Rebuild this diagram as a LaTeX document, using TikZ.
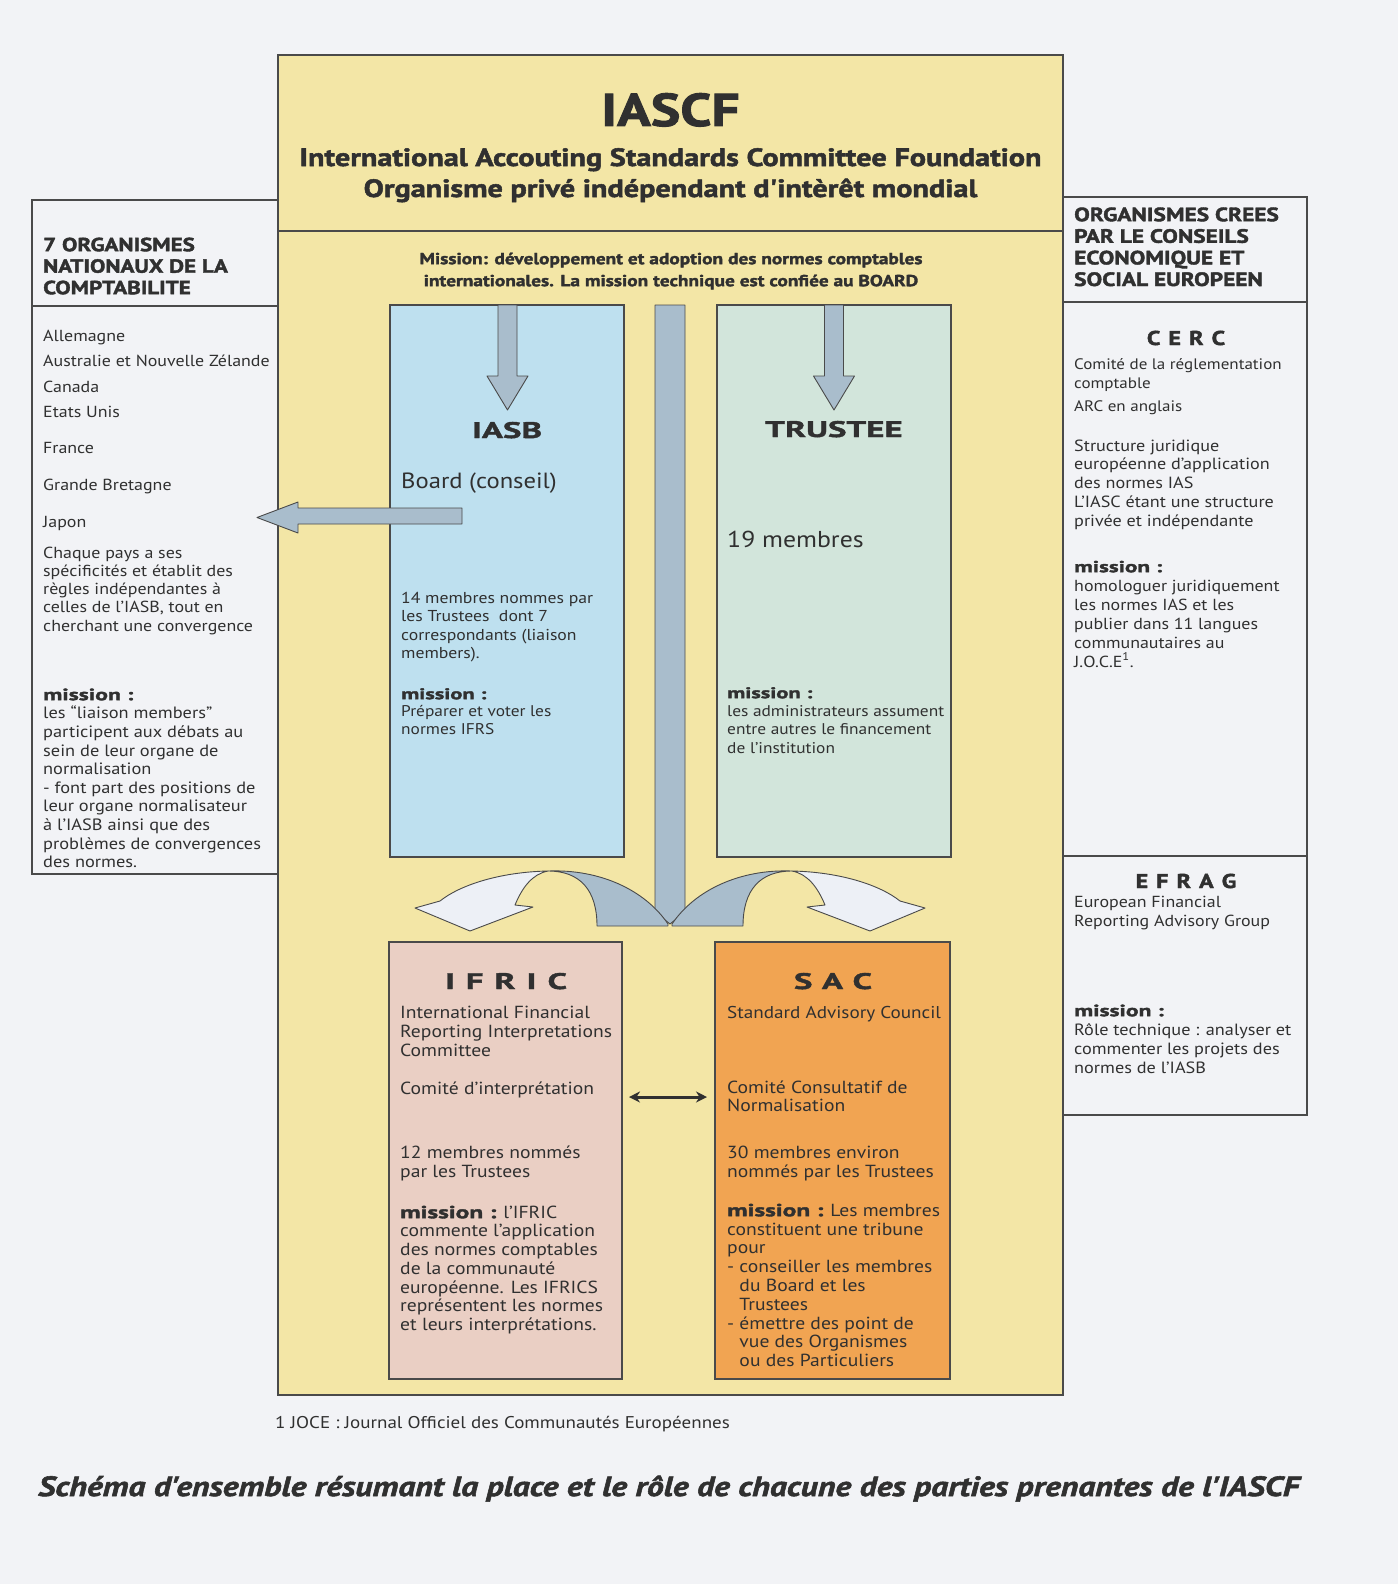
\documentclass[tikz,border=0pt]{standalone}
\usepackage{fontspec}
\setmainfont{PT Sans}[FakeStretch=1.12]
\newfontfamily\heavyfont{PT Sans}[FakeStretch=1.45,BoldFeatures={FakeBold=2}]
\newfontfamily\titlefont{PT Sans}[FakeStretch=1.21,BoldFeatures={FakeBold=2},BoldItalicFeatures={FakeBold=2}]
\newfontfamily\widefont{PT Sans}[FakeStretch=1.55,BoldFeatures={FakeBold=1.8}]
\usepackage{xcolor}
\usepackage{tikz}
\usetikzlibrary{arrows.meta, positioning}

\definecolor{paper}{HTML}{F2F3F6}
\definecolor{iascfyellow}{HTML}{F3E6A6}
\definecolor{iasbblue}{HTML}{BEE0EF}
\definecolor{trusteegreen}{HTML}{D2E5DB}
\definecolor{ifricpink}{HTML}{EACFC4}
\definecolor{sacorange}{HTML}{F1A452}
\definecolor{arrowgray}{HTML}{A9BDCC}
\definecolor{arrowwhite}{HTML}{EDF0F6}
\definecolor{inkgray}{HTML}{303030}
\definecolor{linegray}{HTML}{4A4A4A}

\newcommand\hvy{\heavyfont\bfseries}
\newcommand\headfont{\widefont\bfseries\fontsize{22.5}{26}\selectfont\spaceskip 11pt\relax}
\newcommand\euheadfont{\titlefont\bfseries\fontsize{20}{24}\selectfont\spaceskip 8pt\relax}
\newcommand\lstrut{\rule{0pt}{17pt}}

\begin{document}
\begin{tikzpicture}[x=1pt, y=-1pt,
    box/.style={draw=linegray, line width=1.3pt, inner sep=0pt, outer sep=0pt},
    txt/.style={anchor=north west, inner sep=0pt, align=left, text=inkgray},
    line/.style={anchor=base west, inner sep=0pt, text=inkgray, font=\fontsize{16}{18}\selectfont},
    head/.style={anchor=base, inner sep=0pt, text=inkgray, font=\headfont},
    blockarrow/.style={fill=arrowgray, draw=linegray, line width=0.9pt, line join=round}]
  \useasboundingbox (0,0) rectangle (1398,1584);
  \fill[paper] (0,0) rectangle (1398,1584);

  % Foundation frame
  \node[box, fill=iascfyellow, minimum width=785, minimum height=1340] (iascf) at (670.5,725) {};
  \draw[box] (278,231) -- (1063,231);
  \node[anchor=base, inner sep=0pt, text=inkgray, font=\titlefont\bfseries\fontsize{46}{50}\selectfont] (t-iascf) at (670.5,126) {IASCF};
  \node[anchor=base, inner sep=0pt, text=inkgray, font=\titlefont\bfseries\fontsize{25}{30}\selectfont] (t-name) at (670.5,166) {International Accouting Standards Committee Foundation};
  \node[anchor=base, inner sep=0pt, text=inkgray, font=\titlefont\bfseries\fontsize{25}{30}\selectfont] (t-sub) at (670.5,197) {Organisme privé indépendant d'intèrêt mondial};
  \node[anchor=north, inner sep=0pt, align=center, text=inkgray, font=\titlefont\bfseries\fontsize{16}{22}\selectfont] (t-mission) at (671,247) {\lstrut Mission: développement et adoption des normes comptables\\internationales. La mission technique est confiée au BOARD};

  % Side boxes
  \node[box, fill=paper, minimum width=246, minimum height=674] (natl) at (155,537) {};
  \draw[box] (32,306) -- (278,306);
  \node[box, fill=paper, minimum width=244, minimum height=659] (cesl) at (1185,526.5) {};
  \draw[box] (1063,302) -- (1307,302);
  \node[box, fill=paper, minimum width=244, minimum height=259] (efrag) at (1185,985.5) {};

  % Inner boxes
  \node[box, fill=iasbblue, minimum width=234, minimum height=552] (iasb) at (507,581) {};
  \node[box, fill=trusteegreen, minimum width=234, minimum height=552] (trustee) at (834,581) {};
  \node[box, fill=ifricpink, minimum width=233, minimum height=437] (ifric) at (505.5,1160.5) {};
  \node[box, fill=sacorange, minimum width=235, minimum height=437] (sac) at (832.5,1160.5) {};

  % Block arrows
  \foreach \cx in {507.5,834}
    \draw[blockarrow] (\cx-9.5,305) -- (\cx-9.5,376) -- (\cx-20.5,376) -- (\cx,410) -- (\cx+20.5,376) -- (\cx+9.5,376) -- (\cx+9.5,305) -- cycle;
  \draw[blockarrow] (462,508) -- (298,508) -- (298,502) -- (257,517.5) -- (298,533) -- (298,524) -- (462,524) -- cycle;
  \draw[blockarrow] (655,305) -- (655,912) -- (670,924) -- (685,912) -- (685,305) -- cycle;
  \foreach \s in {1,-1} {
    \begin{scope}[shift={(670,0)}, xscale=\s]
      \draw[blockarrow] (-73,926) .. controls (-73,890) and (-90,871) .. (-122,871)
        .. controls (-70,869) and (-25,890) .. (-2,924) -- (-2,926) -- cycle;
      \draw[blockarrow, fill=arrowwhite] (-122,871) .. controls (-170,872) and (-210,885) .. (-230,901)
        -- (-255,908) -- (-200,931) -- (-137,907) -- (-155,905)
        .. controls (-148,888) and (-138,874) .. (-122,871) -- cycle;
    \end{scope}
  }
  \coordinate (link) at (668,1097);
  \draw[{Stealth[length=11pt,width=11pt]}-{Stealth[length=11pt,width=11pt]}, line width=3pt, draw=inkgray, shorten <=7pt, shorten >=8pt] (ifric.east |- link) -- (sac.west |- link);

  % National bodies
  \node[txt, font=\titlefont\bfseries\fontsize{19}{21.5}\selectfont] (n-head) at (43,234) {\lstrut 7 ORGANISMES\\NATIONAUX DE LA\\COMPTABILITE};
  \foreach \y/\t in {341/Allemagne, 366/Australie et Nouvelle Zélande, 392/Canada, 417/Etats Unis, 453/France, 490/Grande Bretagne, 527/Japon}
    \node[line] (land-\y) at (43,\y) {\t};
  \node[txt, font=\fontsize{16}{18.2}\selectfont] (n-note) at (43,541) {\lstrut Chaque pays a ses\\spécificités et établit des\\règles indépendantes à\\celles de l'IASB, tout en\\cherchant une convergence};
  \node[txt, font=\fontsize{16.4}{18.6}\selectfont] (n-mission) at (43,683) {\lstrut{\hvy mission :}\\les “liaison members”\\participent aux débats au\\sein de leur organe de\\normalisation\\- font part des positions de\\leur organe normalisateur\\à l'IASB ainsi que des\\problèmes de convergences\\des normes.};

  % IASB
  \node[head] (b-title) at (507,438) {IASB};
  \node[line, font=\fontsize{22}{24}\selectfont] (b-board) at (401,488) {Board (conseil)};
  \node[txt, font=\fontsize{15.8}{18.5}\selectfont] (b-members) at (401,586) {\lstrut 14 membres nommes par\\les Trustees~~dont 7\\correspondants (liaison\\members).};
  \node[txt, font=\fontsize{15.5}{17.6}\selectfont] (b-mission) at (401,682) {\lstrut{\hvy mission :}\\Préparer et voter les\\normes IFRS};

  % TRUSTEE
  \node[head] (tr-title) at (834,437) {TRUSTEE};
  \node[line, font=\fontsize{23}{26}\selectfont] (tr-count) at (727,547) {19 membres};
  \node[txt, font=\fontsize{15.5}{18.3}\selectfont] (tr-mission) at (727,681) {\lstrut{\hvy mission :}\\les administrateurs assument\\entre autres le financement\\de l'institution};

  % IFRIC
  \node[head] (f-title) at (506,989) {I F R I C};
  \node[txt, font=\fontsize{17.5}{19}\selectfont] (f-name) at (400,1001) {\lstrut International Financial\\Reporting Interpretations\\Committee};
  \node[line, font=\fontsize{17.5}{19}\selectfont] (f-fr) at (400,1094) {Comité d'interprétation};
  \node[txt, font=\fontsize{17.5}{19}\selectfont] (f-members) at (400,1141) {\lstrut 12 membres nommés\\par les Trustees};
  \node[txt, font=\fontsize{17.5}{18.7}\selectfont] (f-mission) at (400,1201) {\lstrut{\hvy mission :} l'IFRIC\\commente l'application\\des normes comptables\\de la communauté\\européenne. Les IFRICS\\représentent les normes\\et leurs interprétations.};

  % SAC
  \node[head, font=\headfont\spaceskip 9.5pt\relax] (s-title) at (833,989) {S A C};
  \node[line, font=\fontsize{17.1}{19}\selectfont] (s-name) at (727,1018) {Standard Advisory Council};
  \node[txt, font=\fontsize{17.5}{18}\selectfont] (s-fr) at (727,1076) {\lstrut Comité Consultatif de\\Normalisation};
  \node[txt, font=\fontsize{17.5}{19}\selectfont] (s-members) at (727,1141) {\lstrut 30 membres environ\\nommés par les Trustees};
  \node[txt, font=\fontsize{17.5}{18.8}\selectfont] (s-mission) at (727,1199) {\lstrut{\hvy mission :} Les membres\\constituent une tribune\\pour\\- conseiller les membres\\\phantom{- }du Board et les\\\phantom{- }Trustees\\- émettre des point de\\\phantom{- }vue des Organismes\\\phantom{- }ou des Particuliers};

  % European bodies
  \node[txt, font=\titlefont\bfseries\fontsize{19.3}{21.6}\selectfont] (e-head) at (1074,204) {\lstrut ORGANISMES CREES\\PAR LE CONSEILS\\ECONOMIQUE ET\\SOCIAL EUROPEEN};
  \node[head, font=\euheadfont] (c-title) at (1186,345) {C E R C};
  \node[txt, font=\fontsize{15.2}{19}\selectfont] (c-name) at (1074,352) {\lstrut Comité de la réglementation\\comptable};
  \node[line, font=\fontsize{15.2}{19}\selectfont] (c-arc) at (1074,411) {ARC en anglais};
  \node[txt, font=\fontsize{16.2}{18.7}\selectfont] (c-status) at (1074,434) {\lstrut Structure juridique\\européenne d'application\\des normes IAS\\L'IASC étant une structure\\privée et indépendante};
  \node[txt, font=\fontsize{16}{19}\selectfont] (c-mission) at (1074,555) {\lstrut{\hvy mission :}\\homologuer juridiquement\\les normes IAS et les\\publier dans 11 langues\\communautaires au\\J.O.C.E\textsuperscript{1}.};
  \node[head, font=\euheadfont] (g-title) at (1186,888) {E F R A G};
  \node[txt, font=\fontsize{16}{19}\selectfont] (g-name) at (1074,890) {\lstrut European Financial\\Reporting Advisory Group};
  \node[txt, font=\fontsize{16.3}{19}\selectfont] (g-mission) at (1074,999) {\lstrut{\hvy mission :}\\Rôle technique : analyser et\\commenter les projets des\\normes de l'IASB};

  % Footnote and caption
  \node[anchor=base west, inner sep=0pt, text=inkgray, font=\fontsize{17}{19}\selectfont] (footnote) at (275,1428) {1 JOCE : Journal Officiel des Communautés Européennes};
  \node[anchor=base west, inner sep=0pt, text=inkgray, font=\titlefont\bfseries\itshape\fontsize{27.8}{32}\selectfont] (caption) at (38,1496) {Schéma d'ensemble résumant la place et le rôle de chacune des parties prenantes de l'IASCF};
\end{tikzpicture}
\end{document}
